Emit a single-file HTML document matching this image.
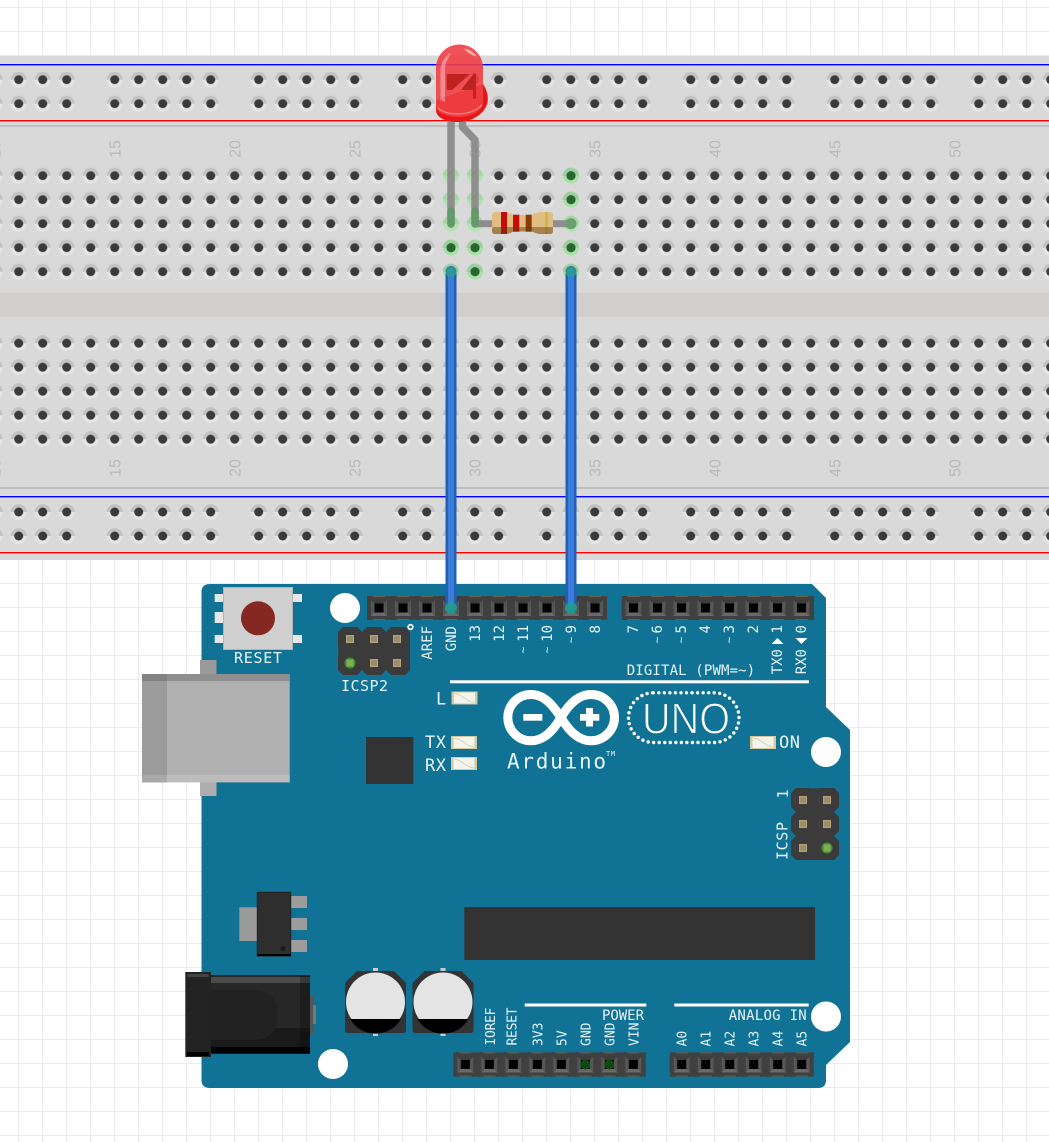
<!DOCTYPE html>
<html><head><meta charset="utf-8"><style>
html,body{margin:0;padding:0;background:#fff;width:1049px;height:1142px;overflow:hidden}
svg{display:block}
.m{font-family:"DejaVu Sans Mono","Liberation Mono",monospace;fill:#eaf4f7}
.n{font-family:"Liberation Sans",sans-serif;font-size:16px;fill:#b9b9b9;text-anchor:middle}
</style></head><body>
<svg xmlns="http://www.w3.org/2000/svg" width="1049" height="1142" viewBox="0 0 1049 1142">
<defs>
<pattern id="grid" patternUnits="userSpaceOnUse" x="18" y="7" width="24" height="24"><rect x="0" width="1" height="24" fill="#eaecf3"/><rect y="0" width="24" height="1" fill="#eaecf3"/></pattern>
<g id="h"><circle r="8" fill="#e4e4e4"/><path d="M-8 0A8 8 0 0 1 8 0Z" fill="#c2c2c2"/><circle r="4.5" fill="#3a3a3a"/></g>
<pattern id="bank" patternUnits="userSpaceOnUse" x="6.7" y="0" width="24" height="24"><use href="#h" x="12" y="12"/></pattern>
<pattern id="rail" patternUnits="userSpaceOnUse" x="102.7" y="0" width="144" height="24">
<use href="#h" x="12" y="12"/><use href="#h" x="36" y="12"/><use href="#h" x="60" y="12"/><use href="#h" x="84" y="12"/><use href="#h" x="108" y="12"/></pattern>
<g id="gh"><circle r="8" fill="#a9e0a9"/><path d="M-8 0A8 8 0 0 1 8 0Z" fill="#9bcf9b"/><circle r="4.6" fill="#2a662f"/></g>
<g id="gh2"><circle r="8" fill="#b4e2b4"/><path d="M-8 0A8 8 0 0 1 8 0Z" fill="#a6d6a6"/></g>
<g id="s"><rect x="-8" y="-8" width="16" height="16" fill="#565656"/><path d="M-8-8H8L4.5-4.5H-4.5Z" fill="#3d3d3d"/><path d="M-8 8H8L4.5 4.5H-4.5Z" fill="#6a6a6a"/><rect x="-4.5" y="-4.5" width="9" height="9" fill="#000"/><rect x="-6" y="-12" width="12" height="1" fill="#6e5f48"/><rect x="-6" y="11" width="12" height="1" fill="#6e5f48"/></g>
<g id="o"><path d="M-7-12H7L12-7V7L7 12H-7L-12 7V-7Z" fill="#3b3b3b"/></g>
<g id="p"><rect x="-4" y="-4" width="8" height="8" fill="#b3a47e"/><rect x="-2.800" y="-2.800" width="5.600" height="5.600" fill="#998c6a"/></g>
<g id="gp"><circle r="5.500" fill="#3f8f2f"/><rect x="-3.500" y="-3.500" width="7" height="7" fill="#7fae55"/></g>
<g id="smd"><rect width="26" height="13" fill="#d6c9a0"/><rect x="2.500" y="1" width="21" height="11" fill="#f4f4ee"/><path d="M3 2C12 3 14 10 23 11" stroke="#d5d2b0" fill="none"/></g>
<g id="cap"><path d="M12 0H49L61 12V59Q61 62 58 62H3Q0 62 0 59V12Z" fill="#333"/><rect x="28" y="-3" width="5" height="3" fill="#ccc"/><rect x="28" y="62" width="5" height="3" fill="#ccc"/><circle cx="30.500" cy="31" r="29.500" fill="#e4e4e4"/><path d="M5 48A29.500 29.500 0 0 0 56 48Z" fill="#000"/></g>
</defs>
<rect width="1049" height="1142" fill="#fff"/>
<rect width="1049" height="1142" fill="url(#grid)"/>

<!-- breadboard -->
<rect y="56" width="1049" height="504" fill="#d9d9d9"/>
<rect y="293" width="1049" height="24" fill="#d0cfcd"/>
<rect y="64" width="1049" height="1.400" fill="#0000ff"/>
<rect y="120" width="1049" height="1.400" fill="#ff0000"/>
<rect y="125" width="1049" height="2" fill="#bdbdbd"/>
<rect y="487" width="1049" height="2" fill="#bdbdbd"/>
<rect y="496" width="1049" height="1.400" fill="#0000ff"/>
<rect y="552" width="1049" height="1.400" fill="#ff0000"/>
<g transform="translate(0,67.7)"><rect width="1049" height="48" fill="url(#rail)"/></g>
<g transform="translate(0,500)"><rect width="1049" height="48" fill="url(#rail)"/></g>
<g transform="translate(0,163.7)"><rect width="1049" height="120" fill="url(#bank)"/></g>
<g transform="translate(0,331.2)"><rect width="1049" height="120" fill="url(#bank)"/></g>

<g>
<text class="n" transform="translate(0.500,149) rotate(-90)">10</text>
<text class="n" transform="translate(120.500,149) rotate(-90)">15</text>
<text class="n" transform="translate(240.500,149) rotate(-90)">20</text>
<text class="n" transform="translate(360.500,149) rotate(-90)">25</text>
<text class="n" transform="translate(480.500,149) rotate(-90)">30</text>
<text class="n" transform="translate(600.500,149) rotate(-90)">35</text>
<text class="n" transform="translate(720.500,149) rotate(-90)">40</text>
<text class="n" transform="translate(840.500,149) rotate(-90)">45</text>
<text class="n" transform="translate(960.500,149) rotate(-90)">50</text>
<text class="n" transform="translate(0.500,468) rotate(-90)">10</text>
<text class="n" transform="translate(120.500,468) rotate(-90)">15</text>
<text class="n" transform="translate(240.500,468) rotate(-90)">20</text>
<text class="n" transform="translate(360.500,468) rotate(-90)">25</text>
<text class="n" transform="translate(480.500,468) rotate(-90)">30</text>
<text class="n" transform="translate(600.500,468) rotate(-90)">35</text>
<text class="n" transform="translate(720.500,468) rotate(-90)">40</text>
<text class="n" transform="translate(840.500,468) rotate(-90)">45</text>
<text class="n" transform="translate(960.500,468) rotate(-90)">50</text>
</g>

<!-- connected holes -->
<use href="#gh2" x="451" y="175.700"/><use href="#gh2" x="451" y="199.700"/><use href="#gh2" x="451" y="223.700"/><use href="#gh" x="451" y="247.700"/><use href="#gh" x="451" y="271.700"/>
<use href="#gh2" x="475" y="175.700"/><use href="#gh2" x="475" y="199.700"/><use href="#gh2" x="475" y="223.700"/><use href="#gh" x="475" y="247.700"/><use href="#gh" x="475" y="271.700"/>
<use href="#gh" x="571" y="175.700"/><use href="#gh" x="571" y="199.700"/><use href="#gh2" x="571" y="223.700"/><use href="#gh" x="571" y="247.700"/><use href="#gh" x="571" y="271.700"/>

<!-- arduino -->
<path d="M210 584H812L826 598V707L850 730V1042L826 1065V1080Q826 1088 818 1088H210Q201.500 1088 201.500 1080V592Q201.500 584 210 584Z" fill="#107395"/>
<circle cx="345" cy="608" r="15" fill="#fff"/><circle cx="826" cy="752" r="15" fill="#fff"/><circle cx="333" cy="1064" r="15" fill="#fff"/><circle cx="826" cy="1016.500" r="15" fill="#fff"/>

<!-- top headers -->
<rect x="367" y="596" width="240" height="24" fill="#404040"/>
<rect x="621.700" y="596" width="192.300" height="24" fill="#404040"/>
<g>
<use href="#s" x="379" y="608"/><use href="#s" x="403" y="608"/><use href="#s" x="427" y="608"/><use href="#s" x="451" y="608"/><use href="#s" x="475" y="608"/><use href="#s" x="499" y="608"/><use href="#s" x="523" y="608"/><use href="#s" x="547" y="608"/><use href="#s" x="571" y="608"/><use href="#s" x="595" y="608"/>
<use href="#s" x="633.500" y="608"/><use href="#s" x="657.500" y="608"/><use href="#s" x="681.500" y="608"/><use href="#s" x="705.500" y="608"/><use href="#s" x="729.500" y="608"/><use href="#s" x="753.500" y="608"/><use href="#s" x="777.500" y="608"/><use href="#s" x="801.500" y="608"/>
</g>
<!-- bottom headers -->
<rect x="453.300" y="1052.300" width="192.400" height="24.400" fill="#404040"/>
<rect x="669.700" y="1052.300" width="144" height="24.400" fill="#404040"/>
<use href="#s" x="465.300" y="1064.500"/><use href="#s" x="489.300" y="1064.500"/><use href="#s" x="513.300" y="1064.500"/><use href="#s" x="537.300" y="1064.500"/><use href="#s" x="561.300" y="1064.500"/><use href="#s" x="585.300" y="1064.500"/><use href="#s" x="609.300" y="1064.500"/><use href="#s" x="633.300" y="1064.500"/>
<use href="#s" x="681.700" y="1064.500"/><use href="#s" x="705.700" y="1064.500"/><use href="#s" x="729.700" y="1064.500"/><use href="#s" x="753.700" y="1064.500"/><use href="#s" x="777.700" y="1064.500"/><use href="#s" x="801.700" y="1064.500"/>
<circle cx="585.300" cy="1064.500" r="5" fill="#0c4a10"/><circle cx="609.300" cy="1064.500" r="5" fill="#0c4a10"/>

<!-- reset -->
<rect x="214.700" y="594" width="9" height="8" fill="#e6e6e6"/><rect x="214.700" y="612" width="9" height="11" fill="#e6e6e6"/><rect x="214.700" y="635" width="9" height="8" fill="#e6e6e6"/>
<rect x="292.500" y="594" width="9.500" height="8" fill="#e6e6e6"/><rect x="292.500" y="635" width="9.500" height="8" fill="#e6e6e6"/>
<rect x="223.500" y="587.500" width="69" height="62" fill="#cfcfcf" stroke="#b4b4b4"/>
<circle cx="258" cy="618.300" r="17" fill="#862822"/>

<!-- USB -->
<rect x="200" y="660" width="16.500" height="15" fill="#9a9a9a"/>
<rect x="200" y="782" width="16.500" height="14" fill="#aeaeae"/>
<rect x="142" y="674" width="147.700" height="108.300" fill="#b0b0b0"/>
<rect x="142" y="674" width="25" height="108.300" fill="#9b9b9b"/>
<rect x="142" y="674" width="147.700" height="7" fill="#8f8f8f"/>
<rect x="142" y="674" width="25" height="7" fill="#838383"/>
<rect x="167" y="775" width="122.700" height="7.300" fill="#bcbcbc"/>
<rect x="142" y="775" width="25" height="7.300" fill="#a9a9a9"/>

<!-- ICSP2 -->
<use href="#o" x="350" y="639"/><use href="#o" x="374" y="639"/><use href="#o" x="398" y="639"/>
<use href="#o" x="350" y="663"/><use href="#o" x="374" y="663"/><use href="#o" x="398" y="663"/>
<rect x="338.300" y="634" width="71.700" height="34" fill="#3b3b3b"/>
<use href="#p" x="350" y="639"/><use href="#p" x="374" y="639"/><use href="#p" x="397" y="639"/>
<use href="#gp" x="350" y="663"/><use href="#p" x="374" y="663"/><use href="#p" x="397" y="663"/>
<circle cx="410.500" cy="627" r="2.300" fill="none" stroke="#fff" stroke-width="1.700"/>

<!-- ICSP -->
<use href="#o" x="803" y="800"/><use href="#o" x="827" y="800"/><use href="#o" x="803" y="824"/><use href="#o" x="827" y="824"/><use href="#o" x="803" y="848"/><use href="#o" x="827" y="848"/>
<rect x="798" y="788.300" width="34" height="71.700" fill="#3b3b3b"/>
<use href="#p" x="803" y="800"/><use href="#p" x="827" y="800"/><use href="#p" x="803" y="824"/><use href="#p" x="827" y="824"/><use href="#p" x="803" y="848"/><use href="#gp" x="827" y="848"/>

<!-- chips -->
<rect x="366" y="737" width="47.300" height="47" fill="#333"/>
<rect x="464.300" y="907" width="350.700" height="53" fill="#333"/>
<use href="#smd" x="451.500" y="691.500"/><use href="#smd" x="451" y="736"/><use href="#smd" x="451" y="757"/><use href="#smd" x="750" y="736"/>

<!-- lines -->
<rect x="450" y="680.300" width="359" height="3" fill="#fff"/>
<rect x="524.700" y="1003.500" width="121.600" height="3" fill="#fff"/>
<rect x="674.300" y="1003.500" width="134.400" height="3" fill="#fff"/>

<!-- logo -->
<path d="M561 717.500C550 701 542 694.500 531 694.500C518 694.500 507.800 705 507.800 717.500C507.800 730 518 740.800 531 740.800C542 740.800 552 733 561 717.500C570 702 580 694.500 591 694.500C604 694.500 614.500 705 614.500 717.500C614.500 730 604 740.800 591 740.800C580 740.800 570 733 561 717.500Z" fill="none" stroke="#fff" stroke-width="9"/>
<rect x="523.300" y="714" width="19" height="6.700" fill="#fff"/>
<rect x="580" y="714" width="19.300" height="6.700" fill="#fff"/><rect x="586" y="708" width="7" height="18.500" fill="#fff"/>
<text class="m" x="507" y="768.300" font-size="21" textLength="99" lengthAdjust="spacing">Arduino</text>
<text class="m" x="606" y="756" font-size="7" textLength="9">TM</text>
<rect x="628.500" y="692.800" width="110.500" height="49.700" rx="24.800" fill="none" stroke="#fff" stroke-width="3.400" stroke-linecap="round" stroke-dasharray="0 1" pathLength="50"/>
<text x="642" y="733.300" font-family="Liberation Sans, sans-serif" font-size="44" fill="#fff" stroke="#107395" stroke-width="1.200" textLength="88" lengthAdjust="spacingAndGlyphs">UNO</text>

<!-- silkscreen -->
<text class="m" x="234" y="663" font-size="15" textLength="48">RESET</text>
<text class="m" x="341" y="691" font-size="15" textLength="47">ICSP2</text>
<text class="m" x="436" y="704.500" font-size="17">L</text>
<text class="m" x="425" y="748" font-size="17" textLength="21">TX</text>
<text class="m" x="425" y="771" font-size="17" textLength="21">RX</text>
<text class="m" x="779" y="748" font-size="17" textLength="21">ON</text>
<text class="m" x="626.700" y="675" font-size="14" textLength="128.500">DIGITAL (PWM=~)</text>
<text class="m" x="602" y="1020" font-size="14" textLength="42">POWER</text>
<text class="m" x="728.700" y="1020" font-size="14" textLength="78">ANALOG IN</text>

<g class="m" font-size="14" text-anchor="end">
<text transform="translate(432,626) rotate(-90)">AREF</text>
<text transform="translate(456,626) rotate(-90)">GND</text>
<text transform="translate(480,625) rotate(-90)">13</text>
<text transform="translate(504,625) rotate(-90)">12</text>
<text transform="translate(528,625) rotate(-90)">11</text>
<text transform="translate(552,625) rotate(-90)">10</text>
<text transform="translate(576,625) rotate(-90)">9</text>
<text transform="translate(600,625) rotate(-90)">8</text>
<text transform="translate(638,625) rotate(-90)">7</text>
<text transform="translate(662,625) rotate(-90)">6</text>
<text transform="translate(686,625) rotate(-90)">5</text>
<text transform="translate(710,625) rotate(-90)">4</text>
<text transform="translate(734,625) rotate(-90)">3</text>
<text transform="translate(758,625) rotate(-90)">2</text>
<text transform="translate(782,625) rotate(-90)">1</text>
<text transform="translate(806,625) rotate(-90)">0</text>
<text transform="translate(782,649) rotate(-90)">TX0</text>
<text transform="translate(806,649) rotate(-90)">RX0</text>
</g>
<g class="m" font-size="11" text-anchor="middle">
<text transform="translate(526.500,650) rotate(-90)">~</text>
<text transform="translate(550.500,650) rotate(-90)">~</text>
<text transform="translate(574.500,640) rotate(-90)">~</text>
<text transform="translate(660.500,640) rotate(-90)">~</text>
<text transform="translate(684.500,640) rotate(-90)">~</text>
<text transform="translate(732.500,640) rotate(-90)">~</text>
</g>
<path d="M771.500 644L777.500 638L783.500 644Z" fill="#fff"/>
<path d="M795.500 638L801.500 644L807.500 638Z" fill="#fff"/>
<g class="m" font-size="13">
<text transform="translate(495,1045.500) rotate(-90)" textLength="38">IOREF</text>
<text transform="translate(516.500,1045.500) rotate(-90)" textLength="38">RESET</text>
<text transform="translate(542.500,1046) rotate(-90)">3V3</text>
<text transform="translate(566.500,1046) rotate(-90)">5V</text>
<text transform="translate(590.500,1046) rotate(-90)">GND</text>
<text transform="translate(614.500,1046) rotate(-90)">GND</text>
<text transform="translate(638.500,1046) rotate(-90)">VIN</text>
<text transform="translate(686.500,1046.500) rotate(-90)">A0</text>
<text transform="translate(710.500,1046.500) rotate(-90)">A1</text>
<text transform="translate(734.500,1046.500) rotate(-90)">A2</text>
<text transform="translate(758.500,1046.500) rotate(-90)">A3</text>
<text transform="translate(782.500,1046.500) rotate(-90)">A4</text>
<text transform="translate(806.500,1046.500) rotate(-90)">A5</text>
</g>
<text class="m" font-size="15" transform="translate(787.500,860) rotate(-90)" textLength="38">ICSP</text>
<text class="m" font-size="15" text-anchor="middle" transform="translate(788,794) rotate(-90)">1</text>

<!-- regulator -->
<rect x="239.300" y="907.300" width="18" height="33.700" fill="#9a9a9a"/>
<rect x="290" y="896" width="17" height="12" fill="#9c9c9c"/><rect x="290" y="918" width="17" height="12" fill="#9c9c9c"/><rect x="290" y="940" width="17" height="12" fill="#9c9c9c"/>
<rect x="257.300" y="892.300" width="33.400" height="63.700" fill="#2e2e2e" stroke="#222" stroke-width="1"/>
<rect x="257.300" y="954" width="33.400" height="2" fill="#000"/>
<circle cx="283" cy="948.500" r="2.500" fill="#1a1a1a"/>

<!-- jack -->
<rect x="310" y="996" width="4" height="37" fill="#555"/><rect x="313" y="1005" width="3" height="19" fill="#777"/>
<rect x="211" y="975" width="99" height="79" fill="#272727"/>
<rect x="211" y="977" width="99" height="6" fill="#4b4b4b"/>
<rect x="211" y="1028" width="99" height="20" fill="#1a1a1a"/>
<rect x="211" y="1047" width="99" height="6.500" fill="#000"/>
<rect x="300" y="975" width="10" height="79" fill="#000" opacity=".25"/>
<path d="M211 990H252Q278 990 278 1015Q278 1040 252 1040H211Z" fill="#222"/>
<rect x="185.300" y="972" width="25.700" height="85" fill="#232323"/>
<rect x="187.500" y="974" width="21" height="3" fill="#444"/>
<rect x="187" y="1052" width="22" height="4" fill="#000"/>

<!-- caps -->
<use href="#cap" x="345" y="971"/><use href="#cap" x="412.500" y="971"/>

<!-- wires -->
<rect x="445.500" y="266" width="11" height="347" rx="5.500" fill="#2060b8"/>
<rect x="448" y="269" width="6" height="341" rx="3" fill="#3a7cd8"/>
<rect x="565.500" y="266" width="11" height="347" rx="5.500" fill="#2060b8"/>
<rect x="568" y="269" width="6" height="341" rx="3" fill="#3a7cd8"/>
<circle cx="451" cy="271.700" r="5.500" fill="#2f9f8f" opacity=".8"/>
<circle cx="571" cy="271.700" r="5.500" fill="#2f9f8f" opacity=".8"/>
<circle cx="451" cy="608" r="6" fill="#22a08c" opacity=".85"/>
<circle cx="571" cy="608" r="6" fill="#22a08c" opacity=".85"/>

<!-- resistor -->
<rect x="475" y="220.200" width="20" height="7" fill="#8e8e8e"/>
<rect x="550" y="220.200" width="21" height="7" fill="#8e8e8e"/>
<circle cx="571" cy="223.700" r="5.500" fill="#6a9f6e"/>
<path d="M495 212H505Q510 212 513 215H532Q537 212 541 212H550Q553 212 553 215V231Q553 234 550 234H541Q537 234 532 231.500H513Q510 234 505 234H495Q492 234 492 231V215Q492 212 495 212Z" fill="#e2bd82"/>
<rect x="501" y="212" width="6" height="22" fill="#c70b0b"/>
<rect x="513" y="214.700" width="6.300" height="17" fill="#c70b0b"/>
<rect x="525.700" y="214.700" width="6" height="17" fill="#8a3d08"/>
<rect x="545" y="212" width="2.800" height="22" fill="#c9b648"/>
<path d="M492 229Q492 227 495 227H553V231Q553 234 550 234H541Q537 234 532 231.500H513Q510 234 505 234H495Q492 234 492 231Z" fill="#5a3a10" opacity=".45"/>

<!-- LED legs -->
<path d="M451 118V224" stroke="#8e8e8e" stroke-width="7.500" fill="none"/>
<path d="M462.500 118V127L475 140V224" stroke="#8e8e8e" stroke-width="7.500" fill="none" stroke-linejoin="round"/>
<path d="M451 211V224" stroke="#649a6a" stroke-width="7.500" stroke-linecap="round"/>
<path d="M475 211V224" stroke="#649a6a" stroke-width="7.500" stroke-linecap="round"/>

<!-- LED -->
<path d="M483 84C487 90 488.500 96 487.500 102C486 113 472 122 458 122C447 122 436 118 436 110V100Z" fill="#e91616"/>
<path d="M436 68A23.500 23.500 0 0 1 483 68V103C483 111 470 117 459 117C448 117 436 113 436 106Z" fill="#ee3f45" opacity=".9"/>
<path d="M446.700 74H470L452 90H446.700Z" fill="#bf2222"/>
<path d="M473 74.500L461 90H473Z" fill="#bf2222"/>
<rect x="473" y="73.500" width="3" height="25" fill="#bf2222"/>
<path d="M440.500 100V71C440.500 62 446 55 451 52.500L447.500 60C445.500 63 445 67 445 71V102Z" fill="#fff" opacity=".35"/>
<path d="M464 48.500C469 49.500 474 52 476.500 56.500C472 55.500 467 52.500 464 48.500Z" fill="#fff" opacity=".55"/>
<path d="M438 108C446 116 470 117 482 105" fill="none" stroke="#ffc0c0" stroke-width="1.200" opacity=".6"/>
</svg>
</body></html>
